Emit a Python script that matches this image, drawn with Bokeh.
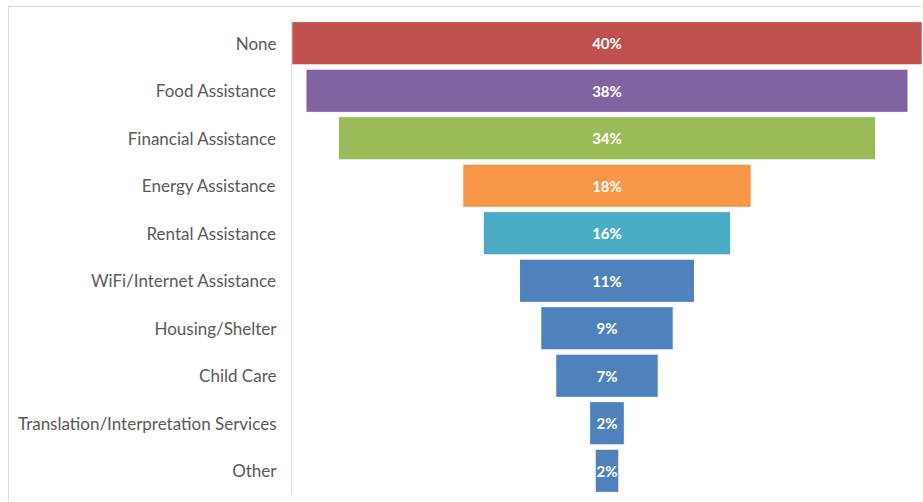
from bokeh.plotting import figure
from bokeh.models import ColumnDataSource, Range1d, FactorRange
from bokeh.core.properties import value
from bokeh.embed import file_html
from bokeh.resources import INLINE

categories = ["None", "Food Assistance", "Financial Assistance", "Energy Assistance",
              "Rental Assistance", "WiFi/Internet Assistance", "Housing/Shelter",
              "Child Care", "Translation/Interpretation Services", "Other"]
values = [40.0, 38.2, 34.1, 18.3, 15.7, 11.1, 8.4, 6.5, 2.2, 1.5]
labels = ["40%", "38%", "34%", "18%", "16%", "11%", "9%", "7%", "2%", "2%"]
colors = ["#C0504D", "#8064A2", "#9BBB59", "#F79646", "#4BACC6",
          "#4F81BD", "#4F81BD", "#4F81BD", "#4F81BD", "#4F81BD"]

src = ColumnDataSource(dict(
    cat=categories,
    left=[-v / 2 for v in values],
    right=[v / 2 for v in values],
    mid=[0.0] * len(values),
    label=labels,
    color=colors,
))

p = figure(width=914, height=495, output_backend="svg", toolbar_location=None,
           y_range=FactorRange(*reversed(categories), range_padding=0),
           x_range=Range1d(-20.02, 20.02),
           min_border_left=282, min_border_right=1, min_border_top=12, min_border_bottom=8,
           margin=(6, 0, 0, 8),
           styles={"border-top": "1px solid #d9d9d9", "border-left": "1px solid #d9d9d9"})

p.hbar(y="cat", left="left", right="right", height=0.91, source=src,
       fill_color="color", line_color="white", line_width=1)
p.text(x="mid", y="cat", text="label", source=src, text_align="center",
       text_baseline="middle", text_color="white", text_font_size="15px",
       text_font_style="bold", text_font=value("Lato"))

p.xaxis.visible = False
p.xgrid.visible = False
p.ygrid.visible = False
p.outline_line_color = None
p.yaxis.axis_line_color = "#d9d9d9"
p.yaxis.axis_line_width = 1
p.yaxis.major_tick_line_color = None
p.yaxis.minor_tick_line_color = None
p.yaxis.major_label_standoff = 9
p.yaxis.major_label_text_font = "Lato"
p.yaxis.major_label_text_font_size = "17px"
p.yaxis.major_label_text_color = "#595959"

open("out.html", "w").write(file_html(p, INLINE))
